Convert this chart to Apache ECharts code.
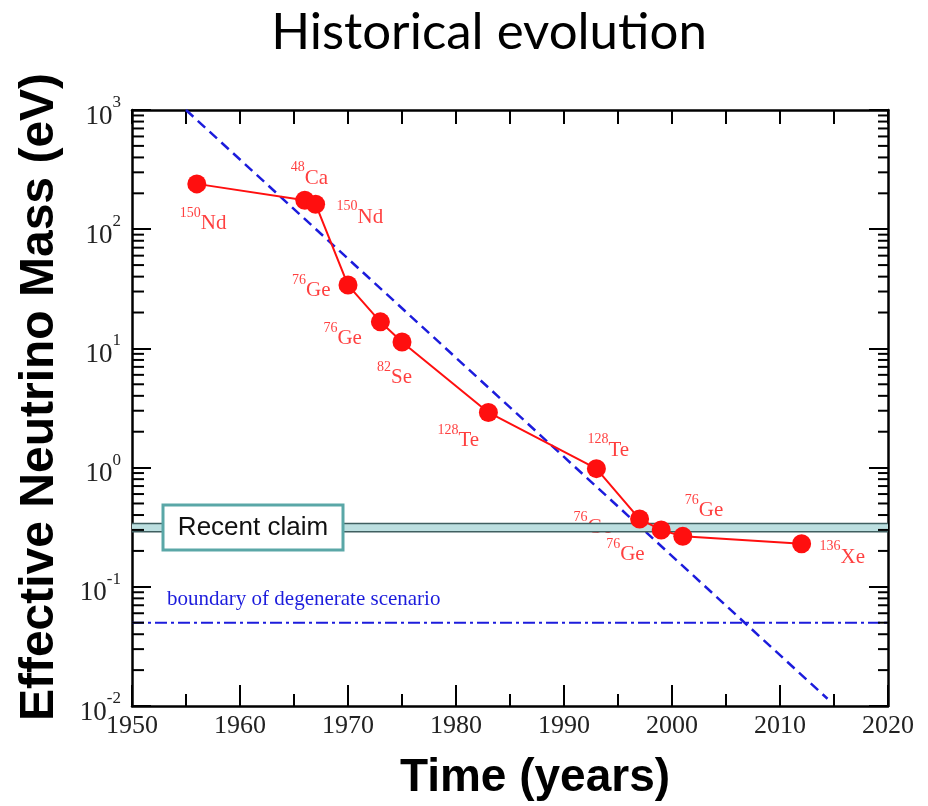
<!DOCTYPE html>
<html>
<head>
<meta charset="utf-8">
<script src="https://cdn.jsdelivr.net/npm/echarts@6/dist/echarts.min.js"></script>
<style>
  html, body { margin: 0; padding: 0; background: #fff; }
  #chart { width: 928px; height: 806px; }
</style>
</head>
<body>
<div id="chart"></div>
<script>
// Upper limits on the effective neutrino mass from double-beta decay experiments
const years = [1956, 1966, 1967, 1970, 1973, 1975, 1983, 1993, 1997, 1999, 2001, 2012];
const massLimits = [240, 175, 162, 34, 16.7, 11.3, 2.9, 0.98, 0.37, 0.30, 0.265, 0.23];
const isotopeMass = ['150', '48', '150', '76', '76', '82', '128', '128', '76', '76', '76', '136'];
const isotopeName = ['Nd', 'Ca', 'Nd', 'Ge', 'Ge', 'Se', 'Te', 'Te', 'Ge', 'Ge', 'Ge', 'Xe'];

// Straight-line trend on the log scale
const trendYears = [1955, 2014.4];
const trendMass = [1000, 0.0115];

// Claimed signal band and the degenerate-hierarchy boundary (eV)
const claimBand = [0.29, 0.34];
const degenerateBoundary = 0.05;

// Axis ranges
const yearRange = [1950, 2020];
const massRange = [0.01, 1000];
const massDecades = [0.01, 0.1, 1, 10, 100, 1000];

// Minor log ticks 2..9 within each decade
const minorMassTicks = [];
massDecades.slice(0, -1).forEach(d => {
  for (let k = 2; k <= 9; k++) minorMassTicks.push(+(k * d).toPrecision(3));
});

// Label placement relative to each marker (px)
const labelOffsets = [
  [-17, 36], [-14, -25.5], [21, 9.5], [-56, 2], [-57, 13], [-25, 32],
  [-51, 25], [-9, -22], [-66, 5], [-55, 21], [2, -29], [18, 10]
];

const RED = '#ff0f0f';
const BLUE = '#1c1cdc';
const SERIF = "'Liberation Serif', 'DejaVu Serif', serif";
const SANS = "'Liberation Sans', Arial, sans-serif";

const chart = echarts.init(document.getElementById('chart'), null, { renderer: 'canvas' });

const isotopeRich = {
  s: { fontFamily: SERIF, fontSize: 14, color: RED, verticalAlign: 'top' },
  e: { fontFamily: SERIF, fontSize: 21, color: RED, verticalAlign: 'bottom' }
};

const powerRich = {
  b: { fontFamily: SERIF, fontSize: 27, color: '#222', verticalAlign: 'bottom' },
  s: { fontFamily: SERIF, fontSize: 17, color: '#222', verticalAlign: 'top' }
};

const axisLine = { show: true, onZero: false, lineStyle: { color: '#000', width: 2.5 } };

const option = {
  animation: false,
  backgroundColor: '#fff',
  graphic: [
    {
      type: 'text', x: 489, y: 33, silent: true,
      style: {
        text: 'Historical evolution',
        fontFamily: 'Lato', fontSize: 51, fill: '#000',
        align: 'center', verticalAlign: 'middle'
      }
    }
  ],
  grid: { left: 132, right: 40, top: 110, bottom: 99 },
  xAxis: [
    {
      type: 'value', position: 'bottom',
      min: yearRange[0], max: yearRange[1], interval: 10,
      axisLine,
      axisTick: { show: true, inside: true, length: 21, lineStyle: { color: '#000', width: 2 } },
      minorTick: { show: true, splitNumber: 2, length: 12, lineStyle: { color: '#000', width: 2 } },
      splitLine: { show: false },
      axisLabel: {
        show: true, margin: 7, showMinLabel: true, showMaxLabel: true,
        formatter: v => String(v),
        fontFamily: SERIF, fontSize: 26, color: '#222'
      },
      name: 'Time (years)',
      nameLocation: 'middle',
      nameGap: 49,
      nameTextStyle: {
        fontFamily: SANS, fontSize: 46, fontWeight: 'bold', color: '#000',
        padding: [0, 0, 0, 50]
      }
    },
    {
      type: 'value', position: 'top',
      min: yearRange[0], max: yearRange[1], interval: 5,
      axisLine,
      axisTick: { show: true, inside: true, length: 14, lineStyle: { color: '#000', width: 2 } },
      splitLine: { show: false },
      axisLabel: { show: false }
    }
  ],
  yAxis: [
    {
      type: 'log', logBase: 10, position: 'left',
      min: massRange[0], max: massRange[1],
      axisLine,
      axisTick: { show: true, inside: true, length: 19, lineStyle: { color: '#000', width: 2 } },
      splitLine: { show: false },
      axisLabel: {
        show: true, margin: 11, showMinLabel: true, showMaxLabel: true,
        lineHeight: 36, padding: [4, 0, 0, 0],
        formatter: v => '{b|10}{s|' + Math.round(Math.log10(v)) + '}',
        rich: powerRich
      },
      name: 'Effective Neutrino Mass (eV)',
      nameLocation: 'middle',
      nameGap: 68,
      nameTextStyle: {
        fontFamily: SANS, fontSize: 48, fontWeight: 'bold', color: '#000',
        padding: [0, 0, 0, 22]
      }
    },
    {
      type: 'log', logBase: 10, position: 'right',
      min: massRange[0], max: massRange[1],
      axisLine,
      axisTick: { show: true, inside: true, length: 19, lineStyle: { color: '#000', width: 2 } },
      splitLine: { show: false },
      axisLabel: { show: false }
    }
  ],
  series: [
    // isotope labels, drawn beneath the claim band
    {
      type: 'scatter', z: 1, silent: true,
      symbolSize: 19,
      itemStyle: { color: 'transparent' },
      data: years.map((y, i) => ({
        value: [y, massLimits[i]],
        label: { offset: labelOffsets[i] }
      })),
      label: {
        show: true, position: 'inside', align: 'left', verticalAlign: 'middle',
        lineHeight: 28,
        formatter: p => '{s|' + isotopeMass[p.dataIndex] + '}{e|' + isotopeName[p.dataIndex] + '}',
        rich: isotopeRich
      }
    },
    // sensitivity trend
    {
      type: 'line', z: 2, silent: true,
      symbol: 'none',
      data: trendYears.map((y, i) => [y, trendMass[i]]),
      lineStyle: { color: BLUE, width: 2.5, type: [10, 6] }
    },
    // degenerate scenario boundary
    {
      type: 'line', z: 2, silent: true,
      symbol: 'none',
      data: yearRange.map(y => [y, degenerateBoundary]),
      lineStyle: { color: BLUE, width: 2, type: [12, 4, 3, 4] }
    },
    {
      type: 'custom', z: 2, silent: true,
      data: [[yearRange[0], degenerateBoundary]],
      renderItem: (params, api) => {
        const cs = params.coordSys;
        const p = api.coord([api.value(0), api.value(1)]);
        return {
          type: 'text',
          x: cs.x + 35, y: p[1] - 23,
          style: {
            text: 'boundary of degenerate scenario',
            fontFamily: SERIF, fontSize: 21, fill: BLUE,
            align: 'left', verticalAlign: 'middle'
          }
        };
      }
    },
    // claimed signal band with its caption box
    {
      type: 'custom', z: 3, silent: true,
      data: [[yearRange[0], claimBand[0], claimBand[1]]],
      encode: { x: 0, y: [1, 2] },
      renderItem: (params, api) => {
        const cs = params.coordSys;
        const yLo = api.coord([api.value(0), api.value(1)])[1];
        const yHi = api.coord([api.value(0), api.value(2)])[1];
        const mid = (yLo + yHi) / 2;
        const boxW = 180, boxH = 45;
        return {
          type: 'group',
          children: [
            { type: 'rect', shape: { x: cs.x, y: yHi, width: cs.width, height: yLo - yHi },
              style: { fill: '#bcdfe0' } },
            { type: 'line', shape: { x1: cs.x, y1: yHi, x2: cs.x + cs.width, y2: yHi },
              style: { stroke: '#3f5f60', lineWidth: 1.5 } },
            { type: 'line', shape: { x1: cs.x, y1: yLo, x2: cs.x + cs.width, y2: yLo },
              style: { stroke: '#3f5f60', lineWidth: 1.5 } },
            { type: 'rect', shape: { x: cs.x + 31, y: mid - boxH / 2, width: boxW, height: boxH },
              style: { fill: '#fff', stroke: '#5aa7a7', lineWidth: 3 } },
            { type: 'text', x: cs.x + 31 + boxW / 2, y: mid,
              style: { text: 'Recent claim', fontFamily: SANS, fontSize: 26, fill: '#111',
                       align: 'center', verticalAlign: 'middle' } }
          ]
        };
      }
    },
    // experimental limits
    {
      type: 'line', z: 4, silent: true,
      symbol: 'circle', symbolSize: 19, showSymbol: true,
      data: years.map((y, i) => [y, massLimits[i]]),
      itemStyle: { color: RED },
      lineStyle: { color: RED, width: 2 }
    },
    // minor ticks between decades on both mass axes
    {
      type: 'custom', z: 5, silent: true,
      data: minorMassTicks.map(v => [yearRange[0], v]),
      renderItem: (params, api) => {
        const cs = params.coordSys;
        const y = api.coord([api.value(0), api.value(1)])[1];
        const st = { stroke: '#000', lineWidth: 2 };
        return {
          type: 'group',
          children: [
            { type: 'line', shape: { x1: cs.x, y1: y, x2: cs.x + 12, y2: y }, style: st },
            { type: 'line', shape: { x1: cs.x + cs.width - 10, y1: y, x2: cs.x + cs.width, y2: y }, style: st }
          ]
        };
      }
    }
  ]
};

chart.setOption(option);
</script>
</body>
</html>
